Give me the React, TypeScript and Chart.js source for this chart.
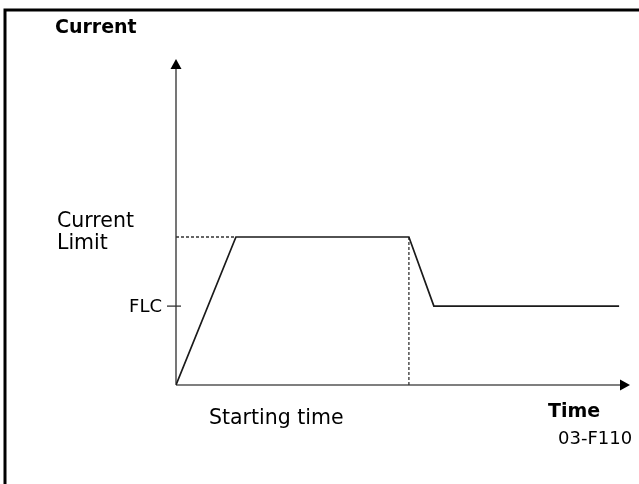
import React, { useEffect, useRef } from "react";
import { Chart, registerables } from "chart.js";

Chart.register(...registerables);

// Time axis (arbitrary units, 0..100) and current (arbitrary units, 0..100)
const timePoints = [0, 13.2, 51.3, 56.8, 97.6];
const currentPoints = [0, 45.4, 45.4, 24.2, 24.2];
const currentLimit = 45.4;
const flc = 24.2;
const startEnd = 51.3;
const rampEnd = 13.2;
const axisMax = 100;

const yTitle = "Current";
const xTitle = "Time";
const limitLabel = ["Current", "Limit"];
const flcLabel = "FLC";
const startLabel = "Starting time";
const figId = "03-F110";

const FONT = '"DejaVu Sans", sans-serif';

const overlayPlugin = {
  id: "overlay",
  beforeDatasetsDraw(chart: any) {
    const { ctx, scales } = chart;
    const xs = scales.x;
    const ys = scales.y;
    const x0 = xs.getPixelForValue(0);
    const y0 = ys.getPixelForValue(0);
    const xEnd = xs.getPixelForValue(axisMax);
    const yEnd = ys.getPixelForValue(axisMax);
    ctx.save();
    // frame
    ctx.strokeStyle = "#000";
    ctx.lineWidth = 3;
    ctx.beginPath();
    ctx.moveTo(5, chart.height + 5);
    ctx.lineTo(5, 10);
    ctx.lineTo(chart.width + 5, 10);
    ctx.stroke();
    // axes
    ctx.strokeStyle = "#555";
    ctx.lineWidth = 1.6;
    ctx.beginPath();
    ctx.moveTo(x0, y0);
    ctx.lineTo(x0, yEnd + 8);
    ctx.moveTo(x0, y0);
    ctx.lineTo(xEnd - 8, y0);
    ctx.stroke();
    // arrowheads
    ctx.fillStyle = "#000";
    ctx.beginPath();
    ctx.moveTo(x0, yEnd);
    ctx.lineTo(x0 - 5.5, yEnd + 10);
    ctx.lineTo(x0 + 5.5, yEnd + 10);
    ctx.closePath();
    ctx.fill();
    ctx.beginPath();
    ctx.moveTo(xEnd, y0);
    ctx.lineTo(xEnd - 10, y0 - 5.5);
    ctx.lineTo(xEnd - 10, y0 + 5.5);
    ctx.closePath();
    ctx.fill();
    // FLC tick
    const yFlc = ys.getPixelForValue(flc);
    ctx.strokeStyle = "#333";
    ctx.lineWidth = 1.3;
    ctx.beginPath();
    ctx.moveTo(x0 - 9, yFlc);
    ctx.lineTo(x0 + 5, yFlc);
    ctx.stroke();

    // texts
    ctx.fillStyle = "#000";
    ctx.textAlign = "left";
    ctx.textBaseline = "alphabetic";
    ctx.font = `bold 19px ${FONT}`;
    ctx.fillText(yTitle, 55, 33);
    ctx.fillText(xTitle, 548, 417);

    ctx.font = `20.5px ${FONT}`;
    const yCl = ys.getPixelForValue(currentLimit);
    ctx.fillText(limitLabel[0], 57, yCl - 10);
    ctx.fillText(limitLabel[1], 57, yCl + 12);
    ctx.fillText(startLabel, 209, y0 + 39);

    ctx.font = `18px ${FONT}`;
    ctx.fillText(figId, 558, 444);

    ctx.textAlign = "right";
    ctx.textBaseline = "middle";
    ctx.font = `18px ${FONT}`;
    ctx.fillText(flcLabel, x0 - 14, yFlc + 1);
    ctx.restore();
  },
};

export default function App() {
  const ref = useRef<HTMLCanvasElement | null>(null);
  useEffect(() => {
    document.body.style.margin = "0";
    const canvas = ref.current!;
    const mainData = timePoints.map((t, i) => ({ x: t, y: currentPoints[i] }));
    const chart = new Chart(canvas, {
      type: "line",
      data: {
        datasets: [
          {
            data: mainData,
            borderColor: "#1a1a1a",
            borderWidth: 1.7,
            pointRadius: 0,
            tension: 0,
            fill: false,
          },
          {
            data: [
              { x: 0, y: currentLimit },
              { x: rampEnd, y: currentLimit },
            ],
            borderColor: "#333",
            borderWidth: 1.3,
            borderDash: [3, 2],
            pointRadius: 0,
            fill: false,
          },
          {
            data: [
              { x: startEnd, y: 0 },
              { x: startEnd, y: currentLimit },
            ],
            borderColor: "#333",
            borderWidth: 1.3,
            borderDash: [3, 2],
            pointRadius: 0,
            fill: false,
          },
        ],
      },
      options: {
        animation: false,
        responsive: false,
        parsing: true,
        layout: { padding: { left: 176, right: 9, top: 59, bottom: 99 } },
        plugins: { legend: { display: false }, tooltip: { enabled: false } },
        scales: {
          x: { type: "linear", min: 0, max: axisMax, display: false },
          y: { type: "linear", min: 0, max: axisMax, display: false },
        },
      },
      plugins: [overlayPlugin],
    });
    return () => chart.destroy();
  }, []);
  return (
    <canvas
      ref={ref}
      width={639}
      height={484}
      style={{ display: "block", width: 639, height: 484, background: "#fff" }}
    />
  );
}
